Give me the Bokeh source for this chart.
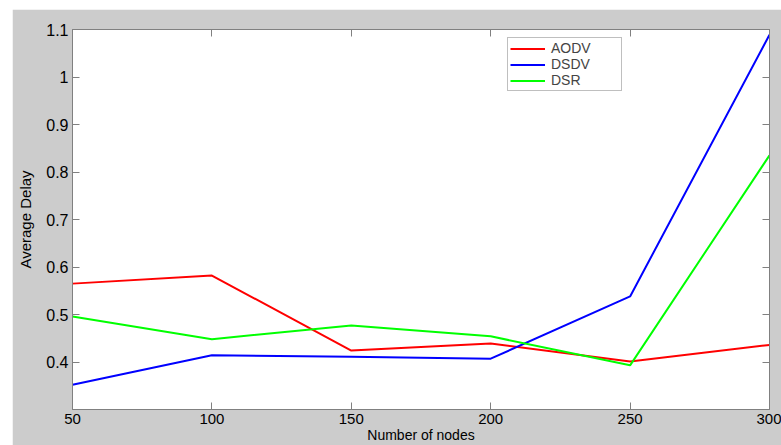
from bokeh.plotting import figure
from bokeh.models import (Range1d, LinearAxis, FixedTicker, Legend, LegendItem,
                          CustomLabelingPolicy, CustomJSTickFormatter)
from bokeh.embed import file_html
from bokeh.resources import INLINE

nodes = [50, 100, 150, 200, 250, 300]
aodv = [0.565, 0.582, 0.424, 0.439, 0.401, 0.436]
dsdv = [0.352, 0.414, 0.411, 0.407, 0.538, 1.089]
dsr = [0.496, 0.448, 0.477, 0.454, 0.393, 0.835]
x_ticks = [50, 100, 150, 200, 250, 300]
y_ticks = [0.4, 0.5, 0.6, 0.7, 0.8, 0.9, 1.0, 1.1]

FONT = "Liberation Sans"
AX = "#808080"

p = figure(width=769, height=436, output_backend="svg", toolbar_location=None,
           x_range=Range1d(50, 300), y_range=Range1d(0.3, 1.1),
           background_fill_color="white", border_fill_color="#cccccc",
           min_border_left=60, min_border_top=20, min_border_right=12, min_border_bottom=36,
           margin=(9, 0, 0, 12))
p.outline_line_color = AX
p.outline_line_width = 1
p.grid.visible = False

def style(ax, labels=True):
    ax.major_tick_in = 7
    ax.major_tick_out = 0
    ax.minor_tick_line_color = None
    ax.axis_line_color = AX
    ax.major_tick_line_color = AX
    ax.major_label_text_font = FONT
    ax.major_label_text_color = "black"
    ax.axis_label_text_font = FONT
    ax.axis_label_text_font_style = "normal"
    ax.axis_label_text_color = "black"
    if labels:
        ax.major_label_text_font_size = "16px"
        ax.axis_label_text_font_size = "15px"
    else:
        ax.formatter = CustomJSTickFormatter(code="return ''")
        ax.major_label_policy = CustomLabelingPolicy(code="return new Set()")
        ax.major_label_standoff = 0
        ax.axis_label_standoff = 0

p.xaxis.ticker = FixedTicker(ticks=x_ticks)
p.yaxis.ticker = FixedTicker(ticks=y_ticks)
p.xaxis.axis_label = "Number of nodes"
p.yaxis.axis_label = "Average Delay"
style(p.xaxis[0])
style(p.yaxis[0])
p.xaxis.major_label_text_font_size = "15px"
p.xaxis.axis_label_text_font_size = "14px"
p.xaxis.major_label_standoff = 4
p.xaxis.axis_label_standoff = 0
p.yaxis.major_label_standoff = 4
p.yaxis.axis_label_standoff = 9

top = LinearAxis(ticker=FixedTicker(ticks=x_ticks))
right = LinearAxis(ticker=FixedTicker(ticks=y_ticks))
style(top, labels=False)
style(right, labels=False)
p.add_layout(top, "above")
p.add_layout(right, "right")

r1 = p.line(nodes, aodv, line_color="#ff0000", line_width=2)
r2 = p.line(nodes, dsdv, line_color="#0000ff", line_width=2)
r3 = p.line(nodes, dsr, line_color="#00ff00", line_width=2)

legend = Legend(items=[LegendItem(label="AODV", renderers=[r1]),
                       LegendItem(label="DSDV", renderers=[r2]),
                       LegendItem(label="DSR", renderers=[r3])],
                location=(435, 318))
legend.label_text_font = FONT
legend.label_text_font_size = "14px"
legend.label_height = 13
legend.glyph_height = 13
legend.glyph_width = 35
legend.label_standoff = 6
legend.label_width = 68
legend.spacing = 0
legend.padding = 2
legend.margin = 0
legend.border_line_color = AX
legend.border_line_width = 1
legend.background_fill_color = "white"
legend.background_fill_alpha = 1
p.add_layout(legend, "center")

open("out.html", "w").write(file_html(p, INLINE))
